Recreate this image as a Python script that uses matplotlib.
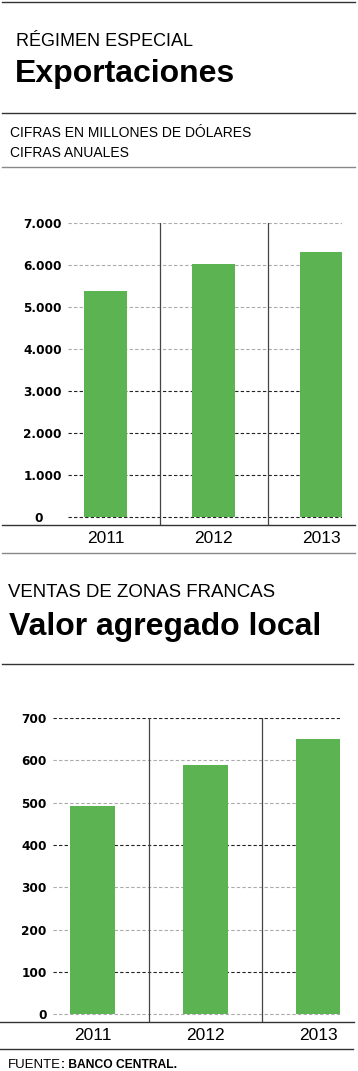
import matplotlib.pyplot as plt
from matplotlib.lines import Line2D
from matplotlib.transforms import ScaledTranslation

# datos
anios = ['2011', '2012', '2013']
exportaciones = [5390, 6020, 6310]          # millones de dolares
valor_agregado = [492, 589, 650]            # millones de dolares
ticks_exp = [0, 1000, 2000, 3000, 4000, 5000, 6000, 7000]
ticks_va = [0, 100, 200, 300, 400, 500, 600, 700]

W, H = 358, 1071
verde = '#5cb352'
plt.rcParams['font.family'] = ['Liberation Sans', 'DejaVu Sans']

fig = plt.figure(figsize=(W / 100, H / 100), dpi=100)


def fx(x):
    return x / W


def fy(y):
    return 1 - y / H


def linea(y, x0=2, x1=355, color='#333333', lw=1.0):
    fig.add_artist(Line2D([fx(x0), fx(x1)], [fy(y), fy(y)], color=color, lw=lw))


def texto(x, y, s, **kw):
    return fig.text(fx(x), fy(y), s, va='baseline', ha='left', **kw)


def panel(left, right, top, bottom, valores, ticks, ybottom, colores_grid):
    ax = fig.add_axes([fx(left), fy(bottom), fx(right) - fx(left), (bottom - top) / H])
    xs = range(len(valores))
    for t, c in zip(ticks, colores_grid):
        ax.axhline(t, color=c, lw=0.8, dashes=(3, 2), zorder=1)
    ax.bar(xs, valores, width=0.40, color=verde, zorder=2)
    for s in (0.5, 1.5):
        ax.axvline(s, color='#444444', lw=0.9, zorder=3)
    ax.set_xlim(-0.35, 2.19)
    ax.set_ylim(ybottom, ticks[-1])
    ax.set_yticks(ticks)
    ax.set_yticklabels([f'{t:,}'.replace(',', '.') for t in ticks],
                       fontweight='bold', fontsize=8.7, family='DejaVu Sans')
    ax.set_xticks(list(xs))
    ax.set_xticklabels(anios, fontsize=12.5)
    ax.tick_params(length=0)
    ax.tick_params(axis='y', pad=4.5)
    ax.tick_params(axis='x', pad=4)
    for sp in ax.spines.values():
        sp.set_visible(False)
    ax.patch.set_alpha(0)
    return ax


gris = '#aaaaaa'
negro = '#222222'

# --- Exportaciones ---
linea(2)
texto(16, 46, 'RÉGIMEN ESPECIAL', fontsize=13)
texto(15, 82, 'Exportaciones', fontsize=23, fontweight='bold')
linea(113)
texto(10, 137, 'CIFRAS EN MILLONES DE DÓLARES', fontsize=10)
texto(10, 157, 'CIFRAS ANUALES', fontsize=10)
linea(167, color='#888888')

ax1 = panel(68, 342, 223, 525, exportaciones, ticks_exp, -190,
            [negro, negro, negro, negro, gris, gris, gris, gris])
# el "0" del primer grafico esta corrido a la izquierda
lab0 = ax1.get_yticklabels()[0]
lab0.set_transform(lab0.get_transform() + ScaledTranslation(-0.19, 0, fig.dpi_scale_trans))
linea(525)
linea(553, color='#888888')

# --- Valor agregado local ---
texto(8, 597, 'VENTAS DE ZONAS FRANCAS', fontsize=13.4)
texto(9, 635, 'Valor agregado local', fontsize=23, fontweight='bold')
linea(664, x0=2, x1=353)

ax2 = panel(53, 340, 718, 1022, valor_agregado, ticks_va, -18,
            [gris, negro, gris, gris, negro, gris, gris, negro])
linea(1022, x0=0, x1=354)
linea(1049, x0=0, x1=353)

t = texto(8, 1068, 'FUENTE', fontsize=9.5)
ax2.annotate(': BANCO CENTRAL.', xy=(1, 0), xycoords=t, va='bottom',
             fontsize=8.7, fontweight='bold', annotation_clip=False)

fig.savefig('out.png', dpi=100)
